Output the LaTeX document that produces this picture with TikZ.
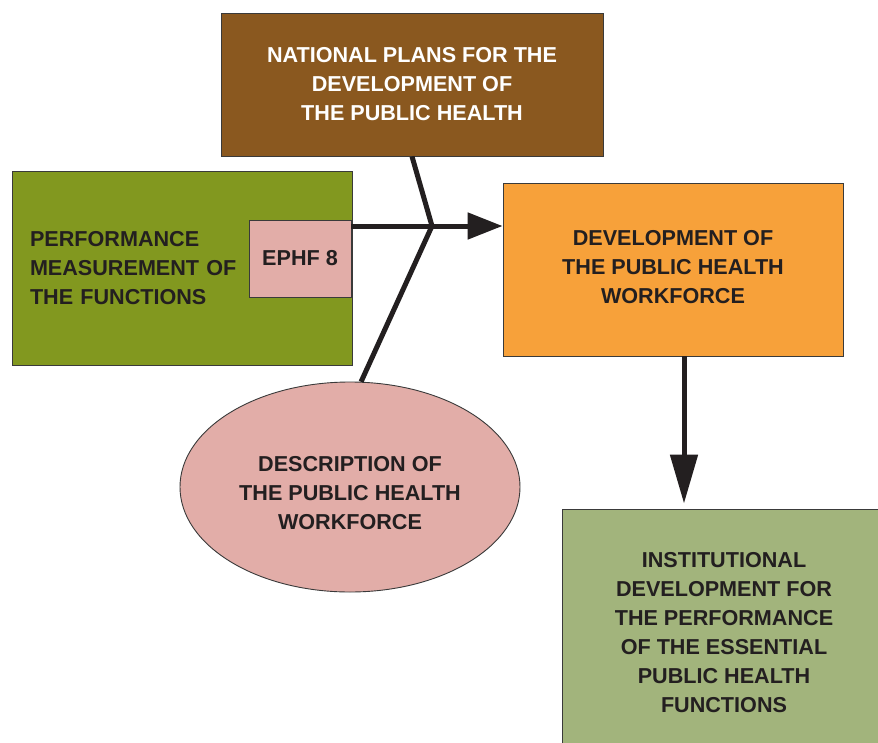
\documentclass[tikz,border=0pt]{standalone}
\usepackage{fontspec}
\setmainfont{Liberation Sans}
\usetikzlibrary{arrows.meta,shapes.geometric}
\definecolor{cbrown}{HTML}{8A581F}
\definecolor{colive}{HTML}{82981F}
\definecolor{cpink}{HTML}{E2ADA8}
\definecolor{corange}{HTML}{F7A13A}
\definecolor{clgreen}{HTML}{A2B47C}
\definecolor{ctext}{HTML}{231F20}
\definecolor{cborder}{HTML}{3A3A3A}
\begin{document}
\begin{tikzpicture}[x=1pt,y=-1pt,
  box/.style={draw=cborder, line width=0.9pt, inner sep=0pt,
    font=\fontsize{21.6}{29}\selectfont\bfseries, text=ctext, align=center},
  conn/.style={line width=5pt, draw=ctext}]
\useasboundingbox (0,0) rectangle (878,742);
\clip (0,0) rectangle (878,742);
\fill[white] (0,0) rectangle (878,742);
\node[box, fill=cbrown, text=white, minimum width=382pt, minimum height=143pt] (plans) at (412,84.5)
  {NATIONAL PLANS FOR THE\\DEVELOPMENT OF\\THE PUBLIC HEALTH};
\node[box, fill=colive, minimum width=340pt, minimum height=194pt, text width=304pt, inner xsep=18pt, align=left] (perf) at (182,268)
  {PERFORMANCE\\MEASUREMENT OF\\THE FUNCTIONS};
\node[box, fill=cpink, minimum width=102pt, minimum height=77pt] (ephf) at (300,258.5) {EPHF 8};
\node[box, fill=corange, minimum width=340pt, minimum height=173pt, text depth=6pt] (work) at (673,269.5)
  {DEVELOPMENT OF\\THE PUBLIC HEALTH\\WORKFORCE};
\node[box, ellipse, fill=cpink, minimum width=340pt, minimum height=210pt, text height=86pt] (desc) at (350,487)
  {DESCRIPTION OF\\THE PUBLIC HEALTH\\WORKFORCE};
\node[box, fill=clgreen, minimum width=324pt, minimum height=248pt] (inst) at (724,633)
  {INSTITUTIONAL\\DEVELOPMENT FOR\\THE PERFORMANCE\\OF THE ESSENTIAL\\PUBLIC HEALTH\\FUNCTIONS};
\coordinate (j) at (432,226);
\draw[conn, line join=miter] (plans.south) -- (j) -- (desc.84);
\draw[conn, -{Triangle[length=35pt,width=26pt]}] (ephf.east |- j) -- (work.west |- j);
\draw[conn, -{Triangle[length=49pt,width=27pt]}, shorten >=5pt] ([xshift=11pt]work.south) -- ([xshift=11pt]work.south |- inst.north);
\end{tikzpicture}
\end{document}
